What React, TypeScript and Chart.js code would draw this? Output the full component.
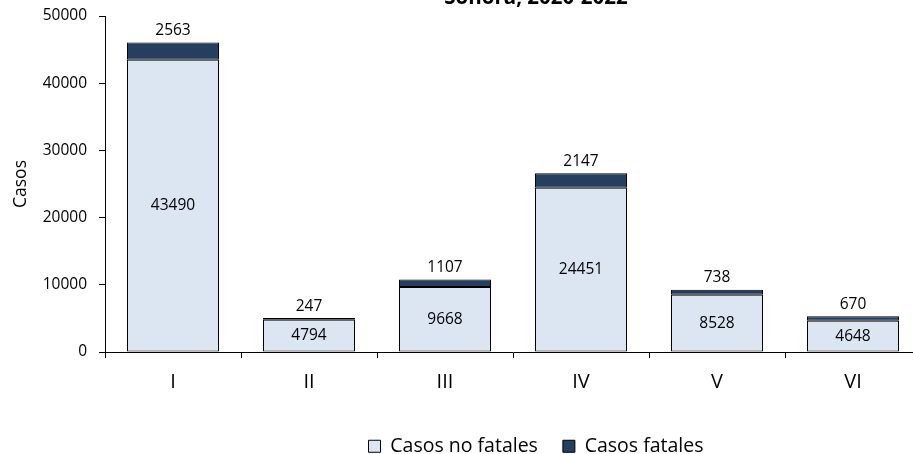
import React, { useEffect, useRef } from "react";
import { Chart, registerables } from "chart.js";

Chart.register(...registerables);

const categories = ["I", "II", "III", "IV", "V", "VI"];
const casosNoFatales = [43490, 4794, 9668, 24451, 8528, 4648];
const casosFatales = [2563, 247, 1107, 2147, 738, 670];
const yTickValues = [0, 10000, 20000, 30000, 40000, 50000];
const seriesNames = ["Casos no fatales", "Casos fatales"];
const yAxisTitle = "Casos";
const titleText = "Sonora, 2020-2022";

const FONT = "'Open Sans'";
const LIGHT = "#DCE6F2";
const DARK = "#243F60";

const labelPlugin = {
  id: "barLabels",
  afterDatasetsDraw(chart: any) {
    const ctx = chart.ctx;
    ctx.save();
    ctx.fillStyle = "#000";
    ctx.font = `15.5px ${FONT}`;
    ctx.textAlign = "center";
    ctx.textBaseline = "middle";
    const m0 = chart.getDatasetMeta(0);
    const m1 = chart.getDatasetMeta(1);
    m0.data.forEach((el: any, i: number) => {
      ctx.fillText(String(casosNoFatales[i]), el.x, (el.y + el.base) / 2);
    });
    m1.data.forEach((el: any, i: number) => {
      ctx.fillText(String(casosFatales[i]), el.x, el.y - 12);
    });
    ctx.restore();
  },
};

const titlePlugin = {
  id: "clippedTitle",
  afterDraw(chart: any) {
    const ctx = chart.ctx;
    ctx.save();
    ctx.fillStyle = "#000";
    ctx.font = `bold 20.5px ${FONT}`;
    ctx.textAlign = "center";
    ctx.textBaseline = "alphabetic";
    ctx.fillText(titleText, chart.width / 2, 4);
    ctx.restore();
  },
};

export default function App() {
  const ref = useRef<HTMLCanvasElement | null>(null);

  useEffect(() => {
    if (!ref.current) return;
    const chart = new Chart(ref.current, {
      type: "bar",
      data: {
        labels: categories,
        datasets: [
          {
            label: seriesNames[0],
            data: casosNoFatales,
            backgroundColor: LIGHT,
            borderColor: "#000",
            borderWidth: 1,
            borderSkipped: false,
            categoryPercentage: 1,
            barPercentage: 92 / 136,
          },
          {
            label: seriesNames[1],
            data: casosFatales,
            backgroundColor: DARK,
            borderColor: "#000",
            borderWidth: 1,
            borderSkipped: false,
            categoryPercentage: 1,
            barPercentage: 92 / 136,
          },
        ],
      },
      options: {
        responsive: false,
        animation: false,
        devicePixelRatio: 1,
        layout: { padding: { top: 16, left: 0, right: 0, bottom: 0 } },
        plugins: {
          title: { display: false },
          tooltip: { enabled: false },
          legend: {
            display: true,
            position: "bottom",
            labels: {
              color: "#000",
              font: { family: FONT, size: 19.5 },
              boxWidth: 12,
              boxHeight: 12,
              padding: 25,
            },
          },
        },
        scales: {
          x: {
            stacked: true,
            grid: {
              display: true,
              offset: true,
              drawOnChartArea: false,
              drawTicks: true,
              tickLength: 6,
              color: "#000",
            },
            border: { display: true, color: "#000", width: 1 },
            ticks: {
              color: "#000",
              font: { family: FONT, size: 20 },
              padding: 12,
              maxRotation: 0,
            },
            afterFit(scale: any) {
              scale.height = 59.5;
              scale.paddingLeft = 0;
              scale.paddingRight = 0;
            },
          },
          y: {
            stacked: true,
            min: 0,
            max: 50000,
            grid: {
              display: true,
              drawOnChartArea: false,
              drawTicks: true,
              tickLength: 6,
              color: "#000",
            },
            border: { display: true, color: "#000", width: 1 },
            ticks: {
              color: "#000",
              font: { family: FONT, size: 15.5 },
              padding: 12,
              callback: (v: any) => String(v),
            },
            afterBuildTicks(scale: any) {
              scale.ticks = yTickValues.map((v) => ({ value: v }));
            },
            title: {
              display: true,
              text: yAxisTitle,
              color: "#000",
              font: { family: FONT, size: 17.5 },
              padding: { top: 11, bottom: 0 },
            },
            afterFit(scale: any) {
              scale.width = 105;
              scale.paddingTop = 0;
              scale.paddingBottom = 0;
            },
          },
          yRight: {
            type: "linear",
            position: "right",
            display: true,
            grid: { display: false, drawTicks: false },
            border: { display: false },
            ticks: { display: false },
            afterFit(scale: any) {
              scale.width = 151;
              scale.paddingTop = 0;
              scale.paddingBottom = 0;
            },
          },
        },
      },
      plugins: [labelPlugin, titlePlugin],
    } as any);
    return () => chart.destroy();
  }, []);

  return (
    <div
      style={{
        position: "absolute",
        left: 0,
        top: 0,
        width: 913,
        height: 454,
        overflow: "hidden",
        background: "#fff",
      }}
    >
      <canvas ref={ref} width={1072} height={466} style={{ display: "block" }} />
    </div>
  );
}
